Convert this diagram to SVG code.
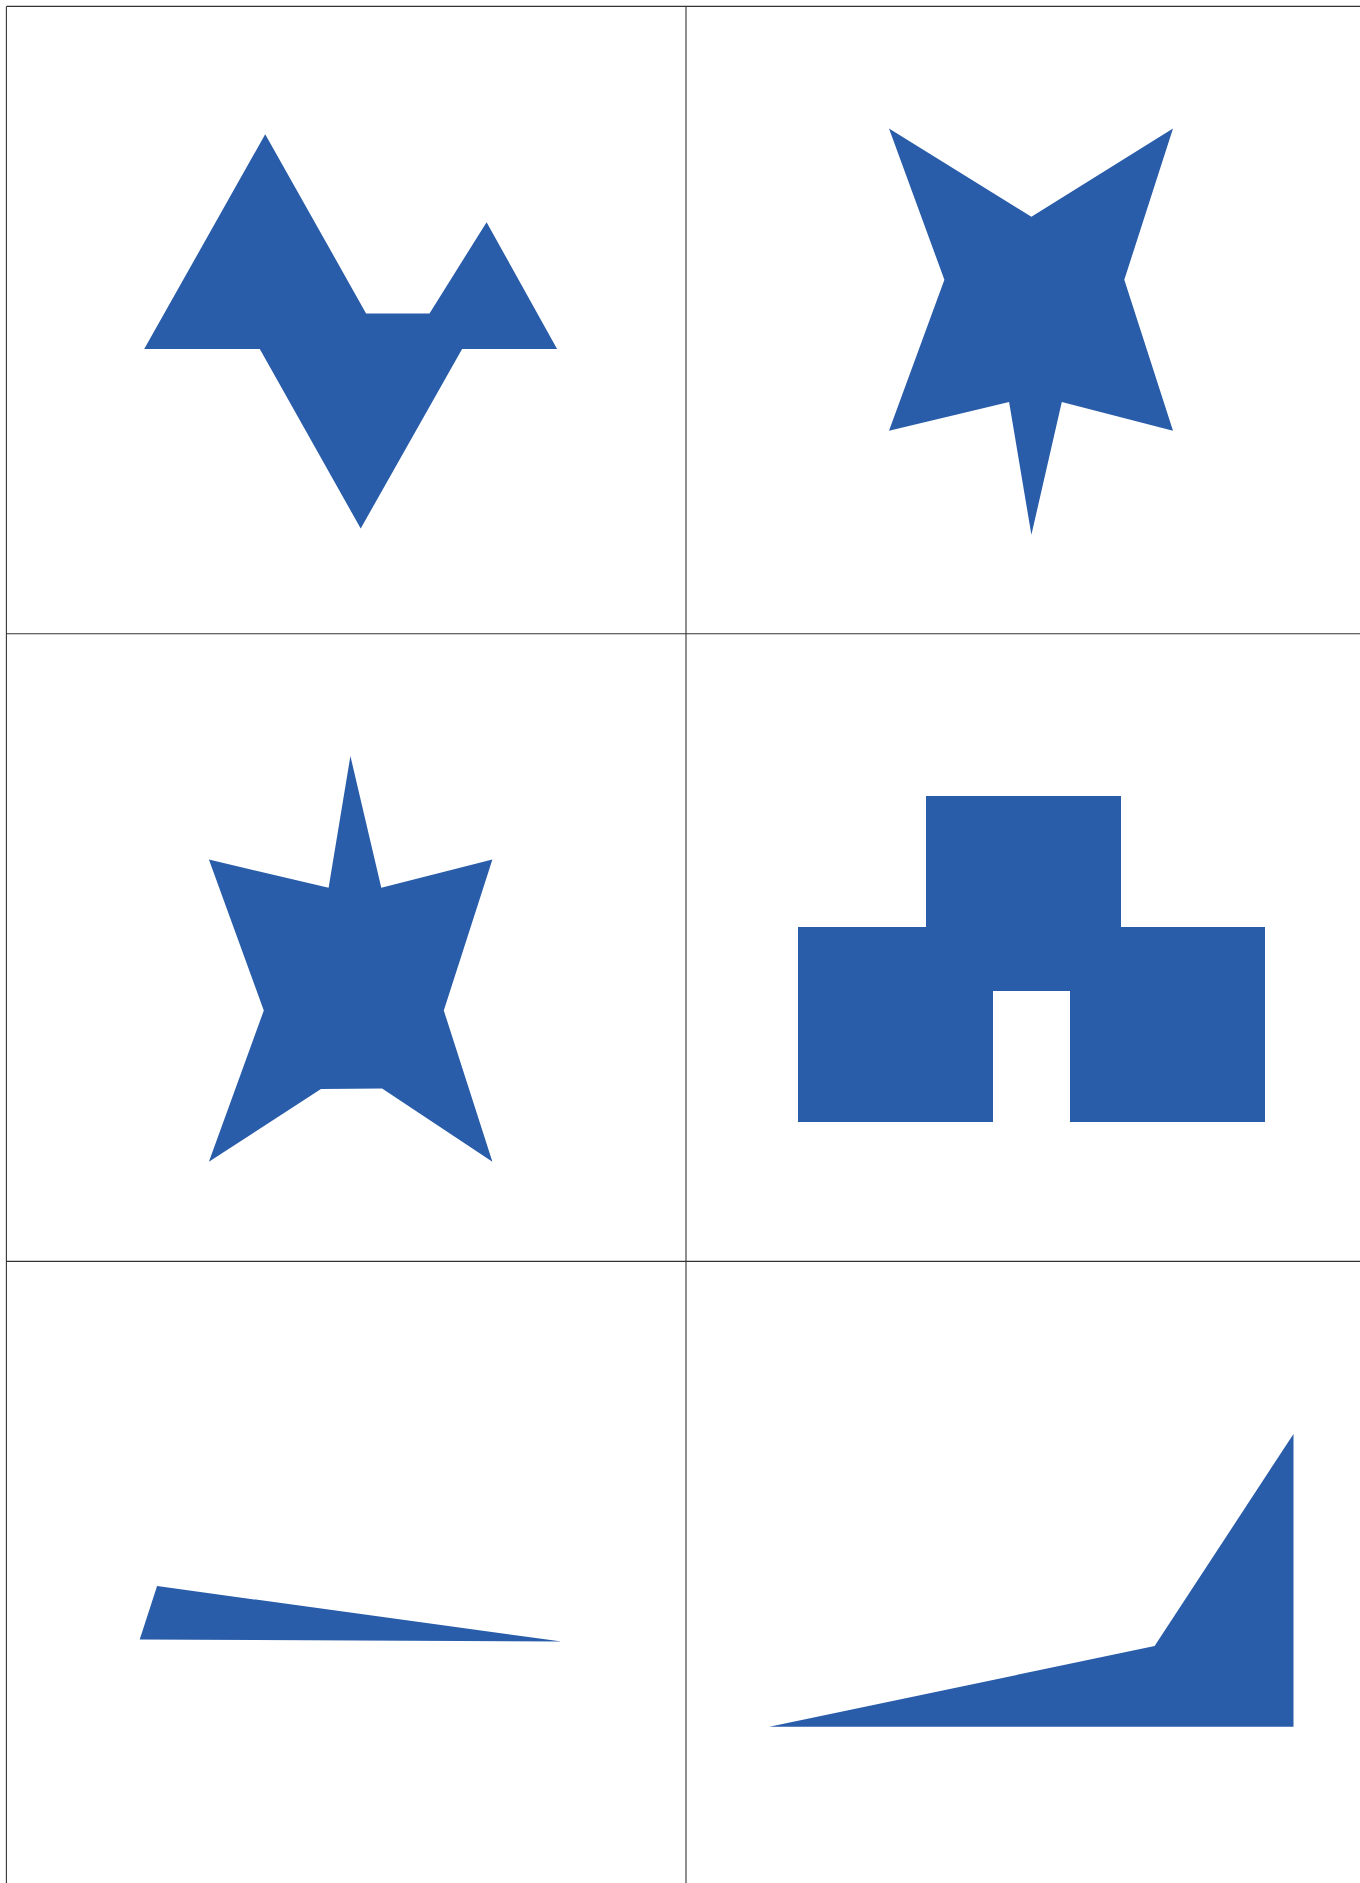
<svg xmlns="http://www.w3.org/2000/svg" width="1360" height="1883" viewBox="0 0 1360 1883">
<style>
.grid{stroke:#333333;stroke-width:1.1;fill:none}
.shape{fill:#295DAA;stroke:none}
</style>
<rect x="0" y="0" width="1360" height="1883" fill="#ffffff"/>
<g id="grid">
<line class="grid" x1="6.4" y1="6.4" x2="6.4" y2="1883"/>
<line class="grid" x1="686" y1="6.4" x2="686" y2="1883"/>
<line class="grid" x1="6.4" y1="6.4" x2="1360" y2="6.4"/>
<line class="grid" x1="6.4" y1="633.8" x2="1360" y2="633.8"/>
<line class="grid" x1="6.4" y1="1261.4" x2="1360" y2="1261.4"/>
</g>
<g id="shape1">
<polygon class="shape" points="144.2,349 265.2,134.3 366.1,313.4 429.5,313.4 486.6,222.2 557.1,349 462.1,349 360.7,528.5 259.8,349"/>
</g>
<g id="shape2">
<polygon class="shape" points="889,128.5 1031.4,216.8 1173,128.5 1124.3,279.8 1173,430.7 1061.8,402.1 1031.4,534.8 1009.1,402.1 889,430.7 944.4,279.8"/>
</g>
<g id="shape3">
<polygon class="shape" points="350.4,756 381.3,887.8 492.4,859.6 443.8,1010.5 492.4,1161.8 382.1,1088.5 321,1088.9 208.9,1161.8 263.8,1010.5 208.9,859.6 328.6,887.8"/>
</g>
<g id="shape4">
<polygon class="shape" points="798,927 926,927 926,796 1121,796 1121,927 1265,927 1265,1122 1070,1122 1070,991 993,991 993,1122 798,1122"/>
</g>
<g id="shape5">
<polygon class="shape" points="157.1,1586.1 561.6,1641.5 139.7,1639.4"/>
</g>
<g id="shape6">
<polygon class="shape" points="769.4,1726.8 1154.6,1646 1293.5,1434 1293.5,1726.8"/>
</g>
</svg>
